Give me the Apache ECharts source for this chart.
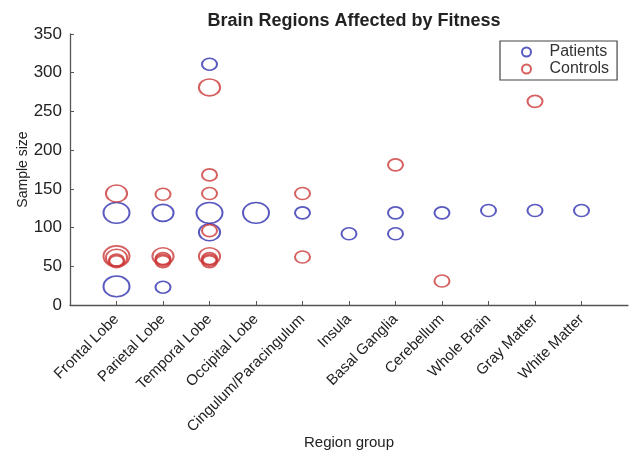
<!DOCTYPE html>
<html><head><meta charset="utf-8">
<script src="https://cdn.jsdelivr.net/npm/echarts@6/dist/echarts.min.js"></script>
<style>html,body{margin:0;padding:0;background:#fff}#c{width:634px;height:457px}</style>
</head><body><div id="c"></div>
<script>
// Region groups (x axis categories)
const categories = ['Frontal Lobe','Parietal Lobe','Temporal Lobe','Occipital Lobe','Cingulum/Paracingulum','Insula','Basal Ganglia','Cerebellum','Whole Brain','Gray Matter','White Matter'];
// [category number (1-based), sample size, number of studies]
const patients = [
  [1,119,3],[1,24,3],
  [2,119,2],[2,23,1],
  [3,311,1],[3,119,3],[3,94,2],
  [4,119,3],
  [5,119,1],
  [6,92,1],
  [7,119,1],[7,92,1],
  [8,119,1],
  [9,122,1],
  [10,122,1],
  [11,122,1]
];
const controls = [
  [1,144,2],[1,63,3],[1,61,2],[1,58,1],[1,56,1],
  [2,143,1],[2,63,2],[2,60,1],[2,58,1],[2,56,1],
  [3,281,2],[3,168,1],[3,144,1],[3,96,1],[3,63,2],[3,60,1],[3,58,1],[3,56,1],
  [5,144,1],[5,62,1],
  [7,181,1],
  [8,31,1],
  [10,263,1]
];
const yTicks = [0,50,100,150,200,250,300,350];

const BLUE = '#2f2fb0', RED = '#cc3838';
const FONT = 'Liberation Sans';
const sz = d => [15*Math.sqrt(d[2]), 12*Math.sqrt(d[2])];

const chart = echarts.init(document.getElementById('c'), null, {renderer:'canvas'});
chart.setOption({
  backgroundColor:'#fff',
  animation:false,
  title:{text:'Brain Regions Affected by Fitness', left:349, top:7, textAlign:'center',
    textStyle:{fontFamily:FONT, fontSize:18, fontWeight:'bold', color:'#222'}},
  legend:{
    orient:'vertical', left:500, top:41, itemWidth:36, itemHeight:9, itemGap:1,
    padding:[3,8,3,21], borderColor:'#444', borderWidth:1.2,
    textStyle:{fontFamily:FONT, fontSize:16, color:'#333'},
    data:[
      {name:'Patients', icon:'circle', itemStyle:{color:'rgba(0,0,0,0)', borderColor:BLUE, borderWidth:2}},
      {name:'Controls', icon:'circle', itemStyle:{color:'rgba(0,0,0,0)', borderColor:RED, borderWidth:2}}
    ]
  },
  grid:{left:70, right:6, top:34, bottom:152, containLabel:false, outerBoundsMode:'none'},
  xAxis:{
    type:'category', data:[''].concat(categories, ['']), boundaryGap:false,
    name:'Region group', nameLocation:'middle', nameGap:130, nameMoveOverlap:false,
    nameTextStyle:{fontFamily:FONT, fontSize:15, color:'#222'},
    axisLine:{lineStyle:{color:'#555', width:1.3}},
    axisTick:{inside:true, length:4, interval:(i,v)=>v!=='', lineStyle:{color:'#555'}},
    axisLabel:{interval:0, rotate:45, margin:12, fontFamily:FONT, fontSize:15, color:'#222'},
    splitLine:{show:false}
  },
  yAxis:{
    type:'value', min:yTicks[0], max:yTicks[yTicks.length-1], interval:50,
    name:'Sample size', nameLocation:'middle', nameGap:40, nameRotate:90, nameMoveOverlap:false,
    nameTextStyle:{fontFamily:FONT, fontSize:14, color:'#222'},
    axisLine:{show:true, lineStyle:{color:'#555', width:1.3}},
    axisTick:{show:true, inside:true, length:4, lineStyle:{color:'#555'}},
    axisLabel:{margin:8, fontFamily:FONT, fontSize:17, color:'#222'},
    splitLine:{show:false}
  },
  series:[
    {name:'Patients', type:'scatter', data:patients, symbol:'circle', symbolSize:sz,
     itemStyle:{color:'rgba(0,0,0,0)', borderColor:BLUE, borderWidth:1.8}, z:2},
    {name:'Controls', type:'scatter', data:controls, symbol:'circle', symbolSize:sz,
     itemStyle:{color:'rgba(0,0,0,0)', borderColor:RED, borderWidth:1.8}, z:3}
  ]
});
</script></body></html>
